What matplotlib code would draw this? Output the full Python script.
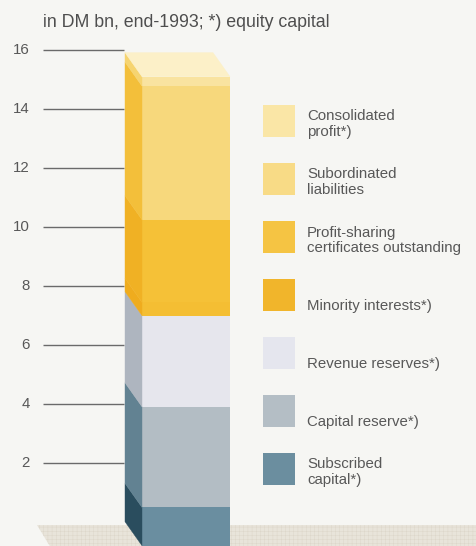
import matplotlib
matplotlib.use("Agg")
import matplotlib.pyplot as plt
from matplotlib.patches import Polygon, Rectangle
import numpy as np

plt.rcParams['font.family'] = ['Liberation Sans', 'DejaVu Sans']
plt.rcParams['hatch.linewidth'] = 0.35

# Liable funds, DM bn, end-1993, stacked from the bottom up
components = [
    "Subscribed\ncapital*)",
    "Capital reserve*)",
    "Revenue reserves*)",
    "Minority interests*)",
    "Profit-sharing\ncertificates outstanding",
    "Subordinated\nliabilities",
    "Consolidated\nprofit*)",
]
amounts = [1.30, 3.41, 3.09, 0.45, 2.80, 4.53, 0.32]
front_colors = ["#6A8EA0", "#B3BDC4", "#E6E6ED", "#F4BE33", "#F5C137", "#F7D87C", "#F9E3A0"]
side_colors = ["#2A4D5E", "#628292", "#AEB5BF", "#EFAC1E", "#F0B124", "#F3BF3A", "#F6D470"]
swatch_colors = ["#6B8E9F", "#B4BEC5", "#E5E6EE", "#F1B52B", "#F5C443", "#F8DB86", "#FAE6A6"]
top_color = "#FCF0C8"
tick_values = [2, 4, 6, 8, 10, 12, 14, 16]
title = "in DM bn, end-1993; *) equity capital"

BG = "#F6F6F3"
TEXT = "#585858"

W, H = 476, 546
fig = plt.figure(figsize=(W / 100, H / 100), dpi=100, facecolor=BG)

# overlay in pixel units for floor, title and key
ov = fig.add_axes([0, 0, 1, 1], zorder=0)
ov.set_xlim(0, W)
ov.set_ylim(H, 0)
ov.axis("off")
ov.set_facecolor(BG)

# value axes: 29.5 px per DM bn, zero of the back plane 521.7 px from the top
PX_PER_UNIT = 29.5
ZERO_PX = 521.7
ax = fig.add_axes([0, 0, 1, 1], zorder=1)
ax.set_xlim(0, W)
ax.set_ylim(-(H - ZERO_PX) / PX_PER_UNIT, ZERO_PX / PX_PER_UNIT)
ax.axis("off")
ax.patch.set_alpha(0)

# floor
floor = Polygon([(37, 525), (W + 5, 525), (W + 5, H + 2), (51, H + 2)], closed=True,
                facecolor="#E8E4DA", edgecolor="#DDD7CA", hatch="++++", linewidth=0)
ov.add_patch(floor)

# bar geometry: back plane x, front face x, receding depth
BACK_X = 125
BAR_W = 88
DEPTH_X = 17
DEPTH_Y = 24 / PX_PER_UNIT
FRONT_X = BACK_X + DEPTH_X

amounts_arr = np.array(amounts)
tops = np.cumsum(amounts_arr)
bottoms = tops - amounts_arr

# front faces
ax.bar(FRONT_X, amounts_arr, width=BAR_W, bottom=bottoms - DEPTH_Y, align="edge",
       color=front_colors, linewidth=0, zorder=3)

# side faces
for b, t, c in zip(bottoms, tops, side_colors):
    ax.add_patch(Polygon([(BACK_X, b), (BACK_X, t), (FRONT_X, t - DEPTH_Y), (FRONT_X, b - DEPTH_Y)],
                         closed=True, facecolor=c, edgecolor=c, linewidth=0.3, zorder=3))

# top face
total = tops[-1]
ax.add_patch(Polygon([(BACK_X, total), (BACK_X + BAR_W, total),
                      (FRONT_X + BAR_W, total - DEPTH_Y), (FRONT_X, total - DEPTH_Y)],
                     closed=True, facecolor=top_color, edgecolor=top_color, linewidth=0.3, zorder=3))

# value ticks
ax.hlines(tick_values, 43, BACK_X - 1, color="#6A6A6A", linewidth=1.0, zorder=2)
for v in tick_values:
    ax.text(30, v, str(v), ha="right", va="center", fontsize=10.8, color=TEXT)

# title
ov.text(43, 27, title, ha="left", va="baseline", fontsize=12.8, color="#4E4E4E")

# key, drawn from the top entry downwards
SW_X, SW_SIZE = 263, 32
first_top, step = 105, 58
LINE_GAP = 15.5
for i, idx in enumerate(range(len(components) - 1, -1, -1)):
    y0 = first_top + i * step
    ov.add_patch(Rectangle((SW_X, y0), SW_SIZE, SW_SIZE, facecolor=swatch_colors[idx], linewidth=0))
    lines = components[idx].split("\n")
    base = y0 + SW_SIZE - 1
    for k, line in enumerate(reversed(lines)):
        ov.text(SW_X + 44, base - k * LINE_GAP, line, ha="left", va="baseline",
                fontsize=10.8, color=TEXT)

fig.savefig("out.png", dpi=100, facecolor=BG)
